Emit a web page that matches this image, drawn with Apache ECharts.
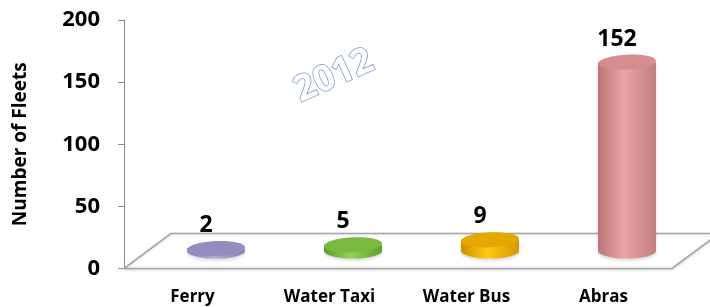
<!DOCTYPE html>
<html>
<head>
<meta charset="utf-8">
<script src="https://cdn.jsdelivr.net/npm/echarts@6/dist/echarts.min.js"></script>
<style>
  html, body { margin: 0; padding: 0; background: #fff; }
  #chart { width: 710px; height: 307px; }
</style>
</head>
<body>
<div id="chart"></div>
<script>
const categories = ["Ferry", "Water Taxi", "Water Bus", "Abras"];
const fleets = [2, 5, 9, 152];
const yTicks = [0, 50, 100, 150, 200];

// body gradient (edge, light, edge) and top face colour per bar
const bodyColors = [
    ["#8278aa", "#b3abd8", "#8a80b4"],
    ["#5c9a2c", "#93d452", "#5f9e30"],
    ["#cc9200", "#ffc814", "#d29800"],
    ["#b87476", "#eba5a7", "#c07e80"]
];
const topColors = ["#958cc0", "#79ba40", "#e4a800", "#d48e90"];

const DEPTH_X = 47, DEPTH_Y = -35; // floor depth
const RX = 29, RY = 7.5;
const FONT = "'Open Sans', 'Noto Sans', sans-serif";

const chart = echarts.init(document.getElementById("chart"));

function renderFloor(params, api) {
    const cs = params.coordSys;
    const x0 = cs.x, x1 = cs.x + cs.width, y0 = cs.y + cs.height;
    return {
        type: "polygon",
        shape: {
            points: [[x0, y0], [x1, y0], [x1 + DEPTH_X, y0 + DEPTH_Y], [x0 + DEPTH_X, y0 + DEPTH_Y]]
        },
        style: {
            fill: "#ffffff",
            stroke: "#a6a6a6",
            lineWidth: 1.6,
            shadowColor: "rgba(0,0,0,0.12)",
            shadowBlur: 3,
            shadowOffsetY: 1
        }
    };
}

function renderCylinder(params, api) {
    const i = api.value(0);
    const top = api.coord([i, api.value(1)]);
    const base = api.coord([i, 0]);
    const cx = top[0] + DEPTH_X / 2;
    const ty = top[1] + DEPTH_Y / 2;
    const by = base[1] + DEPTH_Y / 2;
    const c = bodyColors[i];
    return {
        type: "group",
        children: [{
            type: "path",
            shape: {
                pathData: `M${cx - RX} ${ty} L${cx - RX} ${by} A${RX} ${RY} 0 0 0 ${cx + RX} ${by} L${cx + RX} ${ty} Z`
            },
            style: {
                fill: new echarts.graphic.LinearGradient(0, 0, 1, 0, [
                    { offset: 0, color: c[0] },
                    { offset: 0.45, color: c[1] },
                    { offset: 1, color: c[2] }
                ]),
                shadowColor: "rgba(0,0,0,0.15)",
                shadowBlur: 3,
                shadowOffsetY: 2
            }
        }, {
            type: "ellipse",
            shape: { cx: cx, cy: ty, rx: RX, ry: RY },
            originX: cx,
            originY: ty,
            rotation: 0.05,
            style: { fill: topColors[i] }
        }, {
            type: "text",
            style: {
                text: String(api.value(1)),
                x: cx - 10,
                y: ty - RY - 4,
                align: "center",
                verticalAlign: "bottom",
                fontFamily: FONT,
                fontWeight: "bold",
                fontSize: 23,
                fill: "#000"
            }
        }]
    };
}

const option = {
    backgroundColor: "#ffffff",
    animation: false,
    textStyle: { fontFamily: FONT },
    grid: {
        left: 124,
        right: 38,
        top: 20,
        bottom: 38.5
    },
    xAxis: {
        type: "category",
        data: categories,
        axisLine: { show: false },
        axisTick: { show: false },
        axisLabel: {
            margin: 20,
            fontFamily: FONT,
            fontWeight: "bold",
            fontSize: 17,
            color: "#000"
        }
    },
    yAxis: {
        type: "value",
        min: yTicks[0],
        max: yTicks[yTicks.length - 1],
        interval: 50,
        name: "Number of Fleets",
        nameLocation: "middle",
        nameRotate: 90,
        nameGap: 94,
        nameTextStyle: {
            fontFamily: FONT,
            fontWeight: "bold",
            fontSize: 19,
            color: "#000"
        },
        axisLine: { show: true, lineStyle: { color: "#8c8c8c", width: 1 } },
        axisTick: { show: true, length: 6, lineStyle: { color: "#8c8c8c" } },
        splitLine: { show: false },
        axisLabel: {
            margin: 24,
            fontFamily: FONT,
            fontWeight: "bold",
            fontSize: 22,
            color: "#000"
        }
    },
    graphic: [{
        type: "text",
        x: 334,
        y: 76,
        rotation: 0.42,
        style: {
            text: "2012",
            align: "center",
            verticalAlign: "middle",
            fontFamily: FONT,
            fontWeight: "bold",
            fontSize: 36,
            fill: "#ffffff",
            stroke: "#7d9dcc",
            lineWidth: 1.6,
            shadowColor: "rgba(90,120,180,0.5)",
            shadowBlur: 3
        }
    }],
    series: [{
        type: "custom",
        name: "floor",
        z: 1,
        silent: true,
        renderItem: renderFloor,
        data: [[0, 0]]
    }, {
        type: "custom",
        name: "Fleets",
        z: 2,
        renderItem: renderCylinder,
        encode: { x: 0, y: 1 },
        data: fleets.map((v, i) => [i, v])
    }]
};

chart.setOption(option);
</script>
</body>
</html>
